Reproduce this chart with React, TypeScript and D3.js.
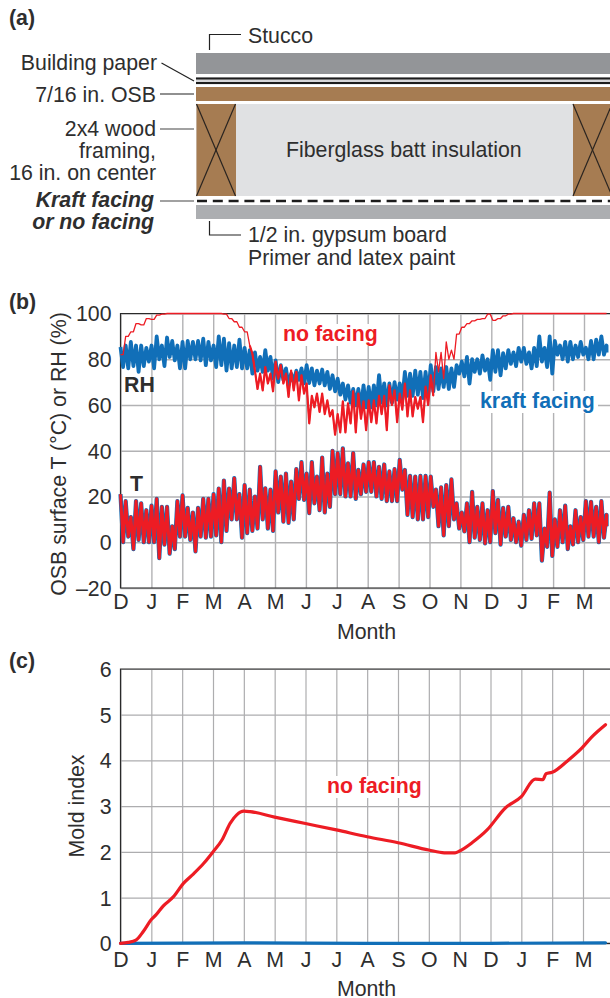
import React from "react";
import * as d3 from "d3";

const monthLabels = ["D", "J", "F", "M", "A", "M", "J", "J", "A", "S", "O", "N", "D", "J", "F", "M"];
const rhTempTicks = [-20, 0, 20, 40, 60, 80, 100];
const moldTicks = [0, 1, 2, 3, 4, 5, 6];
const lastMonth = 15.73;

// hourly traces: highs and lows of each swing, read about every 5 days
const tempHigh = [
  21, 18, 11, 18, 17, 14, 16, 19, 15.5, 15.5, 7, 18, 20.5, 15, 13, 15, 19, 19, 21, 23.5,
  27, 23.5, 28, 21, 25, 23, 20, 33, 23.6, 23, 31, 28.7, 30, 26.5, 32, 35,
  30, 35, 28.7, 37, 30, 40, 39, 41, 34.5, 39, 31.6, 34, 35, 35, 33, 34, 31, 32, 36, 31.6,
  29, 28.7, 29, 29, 28.7, 23, 24, 25, 27.5, 17, 13, 17, 22, 15.5, 17, 14, 22.4, 18.5, 15, 15.5,
  10.5, 9, 12, 14, 17, 17, 6, 21.7, 10, 14, 16, 7, 14, 11, 18, 17.7, 15.5, 18, 12,
];
const tempLow = [
  0, 2.5, -3, 1, 0, 0, 0, -7, -1, -5, -3, 2.5, 2.5, 1, -4, 2.5, 2, 2.5, 3, 0,
  5, 10, 10, 2, 4, 5, 6, 10, 6, 5, 13, 9, 8.5, 10, 19, 18.5,
  12.7, 17, 14, 13, 15.5, 21, 21, 20, 20, 19, 21, 22, 22, 20, 19, 18, 18, 18, 23, 12,
  11, 10, 10, 11, 15.5, 7, 3, 7, 10, 6, 4.7, 0, 2, 1, -0.5, 0, 4, -1, 2.5, 1,
  0, -1.5, 1, 1.5, 3, -8, -2, -6, -2, 0, -3, -1, 0, 1, 2.5, 2.5, 0, 2, 7,
];
const kraftRhHigh = [
  85.4, 86, 87.6, 86, 86, 85, 86, 90, 86, 89.5, 88, 86, 87.6, 88, 87.6, 88, 89, 87.6, 86, 90,
  89, 87, 86, 88.6, 85, 84, 83, 81, 84, 81, 79.5, 77.4, 76, 73.7, 75, 76,
  77.4, 76, 75, 75.5, 74.5, 73, 71.5, 69.4, 68.6, 67, 67, 68.6, 67.9, 68.6, 73, 69.4, 69.4, 70, 69.4, 74.5,
  73.7, 75, 74.5, 74.5, 77.4, 76.6, 76, 76.6, 76, 77.4, 79, 81, 80, 80, 81.7, 80, 84, 84, 82.7, 84,
  83, 85, 85, 83, 85, 90, 85, 90, 88, 86, 87.6, 87.6, 86, 87.6, 85, 88, 88.6, 90, 86,
];
const kraftRhLow = [
  76.6, 76, 77, 74.5, 77, 79, 76, 80, 77, 81, 79.5, 76, 76, 80, 80, 79.5, 77.4, 79.5, 76.6, 77.4,
  75, 76, 76.6, 76, 76, 73.7, 75, 74.5, 75, 71.5, 70, 71, 68.6, 70, 71, 69.4,
  69.6, 68.6, 69.4, 68.6, 67, 66, 64.5, 62.4, 61, 59.8, 58.5, 59, 59, 59.8, 61, 59.8, 61, 62.4, 62.4, 64,
  64, 64.5, 63, 64, 66, 67, 67.9, 67, 67.9, 73.7, 72.5, 69.4, 74.5, 73.7, 75, 71, 74.5, 73, 76, 78,
  77, 79, 78, 76, 77, 79, 76.6, 73.7, 82, 80, 79, 80, 81, 82, 80, 80, 82, 82, 83,
];
const noFacingRhHigh = [
  82, 90, 92, 95.6, 95, 97.8, 97.4, 99.3, 99.7, 100, 100, 100, 100, 100, 100, 100, 100, 100, 100, 100,
  99.7, 97.8, 96.4, 94, 92, 86, 75, 73.7, 76.6, 73.7, 79, 77.4, 73.7, 75, 74.5, 73,
  69.4, 64, 65, 65, 62, 57.7, 56, 61.6, 60.7, 66, 65, 61.6, 62, 62, 64, 64, 68.6, 66.4, 65, 69.4,
  66.4, 63.5, 63.5, 68, 73, 83, 83, 87.6, 84, 91, 94, 95.6, 96.8, 97.4, 97.8, 99.7, 97, 97.8, 99, 99.7,
  100, 100, 100, 100, 100, 100, 100, 100, 100, 100, 100, 100, 100, 100, 100, 100, 100, 100, 100,
];
const noFacingRhLow = [
  82, 90, 92, 95.6, 95, 97.8, 97.4, 99.3, 99.7, 100, 100, 100, 100, 100, 100, 100, 100, 100, 100, 100,
  99.7, 97.8, 96.4, 94, 92, 82.5, 67, 66.4, 69.4, 66, 71.5, 69.4, 63.5, 66.4, 62, 65,
  52, 59, 57, 56, 55, 47, 48, 48, 52, 48, 54, 49, 52.5, 52, 56, 49, 60, 52.5, 58, 55,
  55, 58.4, 52.5, 60, 64, 74.5, 71.5, 80, 80, 91, 94, 95.6, 96.8, 97.4, 97.8, 99.7, 97, 97.8, 99, 99.7,
  100, 100, 100, 100, 100, 100, 100, 100, 100, 100, 100, 100, 100, 100, 100, 100, 100, 100, 100,
];

const moldMonths = [0, 0.25, 0.5, 0.75, 1, 1.15, 1.39, 1.72, 2.04, 2.37, 2.7, 3, 3.29, 3.56, 3.77, 4, 4.2, 5, 6, 7, 8, 9, 10, 10.5, 10.85, 11, 11.4, 11.89, 12.48, 13, 13.45, 13.7, 13.8, 14, 14.53, 14.96, 15.28, 15.73];
const moldNoFacing = [0, 0.02, 0.07, 0.27, 0.52, 0.62, 0.82, 1.02, 1.31, 1.52, 1.75, 2, 2.26, 2.63, 2.81, 2.89, 2.88, 2.76, 2.62, 2.48, 2.33, 2.2, 2.04, 1.98, 1.98, 2.02, 2.2, 2.48, 2.96, 3.21, 3.59, 3.58, 3.71, 3.74, 4.01, 4.27, 4.51, 4.78];
const moldKraftMonths = [0, 4, 8, 12, 15.73];
const moldKraft = [0, 0.01, 0, 0, 0.01];

const BLUE = "#116fb8";
const RED = "#ed1c24";
const INK = "#2e2e2e";
const FONT = '"Liberation Sans", Arial, sans-serif';
const TEXT_SIZE = 21.3;

type Sel = d3.Selection<SVGSVGElement, unknown, null, undefined>;

const label = (svg: Sel, x: number, y: number, s: string, o: any = {}) => {
  const t = svg.append("text")
    .attr("x", x).attr("y", y)
    .attr("font-family", FONT)
    .attr("font-size", TEXT_SIZE)
    .attr("font-weight", o.bold ? "bold" : "normal")
    .attr("font-style", o.italic ? "italic" : "normal")
    .attr("fill", o.fill || INK)
    .attr("text-anchor", o.anchor || "start")
    .text(s);
  if (o.rotate) t.attr("transform", `rotate(-90 ${x} ${y})`);
  return t;
};

const leader = (svg: Sel, pts: [number, number][], color = "#222") => {
  svg.append("path")
    .attr("d", d3.line()(pts))
    .attr("fill", "none")
    .attr("stroke", color)
    .attr("stroke-width", 1.2);
};

// drawing of the wall assembly, panel (a)
const drawWall = (svg: Sel) => {
  const block = (x: number, y: number, w: number, h: number, fill: string) =>
    svg.append("rect").attr("x", x).attr("y", y).attr("width", w).attr("height", h).attr("fill", fill);
  block(196, 53, 414, 21, "#939598");
  block(196, 77, 414, 7.5, "#d6d6d8");
  block(196, 77.5, 414, 2, "#1c1c1c");
  block(196, 82, 414, 2, "#1c1c1c");
  block(196, 87, 414, 14, "#a67c52");
  block(196, 104, 414, 92, "#e0e1e3");
  [196.5, 573].forEach((x) => {
    block(x, 104, 39.5, 92, "#a67c52");
    leader(svg, [[x, 104], [x + 39, 196]], "#2a2420");
    leader(svg, [[x + 39, 104], [x, 196]], "#2a2420");
  });
  svg.append("line")
    .attr("x1", 197).attr("x2", 610).attr("y1", 201).attr("y2", 201)
    .attr("stroke", "#1c1c1c").attr("stroke-width", 2.4).attr("stroke-dasharray", "10 5.8");
  block(196, 205, 414, 14, "#acaeb1");

  leader(svg, [[209.5, 50], [209.5, 34.5], [241, 34.5]]);
  leader(svg, [[161.5, 63], [194, 81]]);
  leader(svg, [[160, 94], [194, 94]]);
  leader(svg, [[160, 129], [194, 129]], "#444");
  leader(svg, [[160, 201], [194, 201]], "#444");
  leader(svg, [[209.5, 221], [209.5, 235], [241, 235]]);

  label(svg, 9, 25, "(a)", { bold: true });
  label(svg, 248, 43, "Stucco");
  label(svg, 157, 70, "Building paper", { anchor: "end" });
  label(svg, 156, 102, "7/16 in. OSB", { anchor: "end" });
  label(svg, 156, 136, "2x4 wood", { anchor: "end" });
  label(svg, 156, 158, "framing,", { anchor: "end" });
  label(svg, 156, 180, "16 in. on center", { anchor: "end" });
  label(svg, 154, 207, "Kraft facing", { anchor: "end", bold: true, italic: true });
  label(svg, 154, 229, "or no facing", { anchor: "end", bold: true, italic: true });
  label(svg, 286, 157, "Fiberglass batt insulation");
  label(svg, 248, 242, "1/2 in. gypsum board");
  label(svg, 248, 265, "Primer and latex paint");
};

// grid, frame and tick labels shared by panels (b) and (c)
const drawFrame = (
  svg: Sel,
  x: d3.ScaleLinear<number, number>,
  y: d3.ScaleLinear<number, number>,
  yTicks: number[],
  yFormat: (v: number) => string,
  gridColor: string,
  gridWidth: number,
  labelBaseline: number
) => {
  const [bottom, top] = y.range();
  const left = x.range()[0];
  const monthIdx = monthLabels.map((_, i) => i);

  const gx = svg.append("g").attr("transform", `translate(0,${bottom})`).call(
    d3.axisBottom(x).tickValues(monthIdx).tickSize(-(bottom - top)).tickPadding(0)
      .tickFormat((d) => monthLabels[+d])
  );
  const gy = svg.append("g").attr("transform", `translate(${left},0)`).call(
    d3.axisLeft(y).tickValues(yTicks).tickSize(-(610 - left)).tickPadding(9)
      .tickFormat((d) => yFormat(+d))
  );
  [gx, gy].forEach((g) => {
    g.select(".domain").remove();
    g.selectAll("line").attr("stroke", gridColor).attr("stroke-width", gridWidth);
    g.selectAll("text").attr("font-family", FONT).attr("font-size", TEXT_SIZE).attr("fill", INK);
  });
  gx.selectAll("text").attr("dy", 0).attr("y", labelBaseline - bottom);
  gy.selectAll("text").attr("dy", "0.35em");

  const frame: [number, number][] = [[610, top], [left, top], [left, bottom], [610, bottom]];
  svg.append("path")
    .attr("d", d3.line()(frame))
    .attr("fill", "none")
    .attr("stroke", "#2a2a2a")
    .attr("stroke-width", 1.2);
};

const haloLabel = (svg: Sel, x0: number, x1: number, baseline: number, s: string, fill: string, textX: number) => {
  svg.append("rect").attr("x", x0).attr("y", baseline - 17).attr("width", x1 - x0).attr("height", 22).attr("fill", "white");
  label(svg, textX, baseline, s, { bold: true, fill });
};

const App = () => {
  const ref = React.useRef<SVGSVGElement>(null);

  React.useEffect(() => {
    if (!ref.current) return;
    const svg: Sel = d3.select(ref.current);
    svg.selectAll("*").remove();

    drawWall(svg);

    // panel (b)
    label(svg, 9, 309, "(b)", { bold: true });
    const xB = d3.scaleLinear().domain([0, 15]).range([120.5, 584]);
    const yB = d3.scaleLinear().domain([-20, 100]).range([588, 313.5]);
    drawFrame(svg, xB, yB, rhTempTicks, (v) => (v < 0 ? "–" + Math.abs(v) : String(v)), "#b2b2b4", 1.4, 609);

    // trace goes high, low, high, low so the band keeps its spikes
    const drawTrace = (high: number[], low: number[], color: string, width: number, from = 0, to = high.length) => {
      const step = lastMonth / (high.length - 1);
      const pts: [number, number][] = [];
      for (let i = from; i < to; i++) {
        pts.push([xB(i * step), yB(high[i])]);
        pts.push([xB(Math.min(i + 0.5, high.length - 1) * step), yB(low[i])]);
      }
      svg.append("path")
        .attr("d", d3.line()(pts))
        .attr("fill", "none")
        .attr("stroke", color)
        .attr("stroke-width", width)
        .attr("stroke-linejoin", "round");
    };

    drawTrace(kraftRhHigh, kraftRhLow, BLUE, 3.8);
    drawTrace(noFacingRhHigh, noFacingRhLow, RED, 1.3);
    drawTrace(noFacingRhHigh, noFacingRhLow, RED, 2.2, 25, 61); // the swinging part, Apr to Oct
    drawTrace(tempHigh, tempLow, BLUE, 4.2);
    drawTrace(tempHigh, tempLow, RED, 3);

    label(svg, 124, 392, "RH", { bold: true });
    label(svg, 130, 491, "T", { bold: true });
    haloLabel(svg, 280, 381, 341, "no facing", RED, 283);
    haloLabel(svg, 470, 598, 408, "kraft facing", BLUE, 480);
    label(svg, 66, 454, "OSB surface T (°C) or RH (%)", { anchor: "middle", rotate: true });
    label(svg, 366.5, 639, "Month", { anchor: "middle" });

    // panel (c)
    label(svg, 9, 668, "(c)", { bold: true });
    const xC = d3.scaleLinear().domain([0, 15]).range([120.5, 583]);
    const yC = d3.scaleLinear().domain([0, 6]).range([943.3, 669]);
    drawFrame(svg, xC, yC, moldTicks, (v) => String(v), "#adadaf", 1.2, 967);

    const moldLine = d3.line<number>().curve(d3.curveMonotoneX);
    const drawMold = (months: number[], vals: number[], color: string) =>
      svg.append("path")
        .attr("d", moldLine.x((_, i) => xC(months[i])).y((d) => yC(d))(vals))
        .attr("fill", "none")
        .attr("stroke", color)
        .attr("stroke-width", 3.2)
        .attr("stroke-linecap", "round");

    drawMold(moldKraftMonths, moldKraft, BLUE);
    drawMold(moldMonths, moldNoFacing, RED);

    haloLabel(svg, 325, 423, 793, "no facing", RED, 327);
    label(svg, 84, 806, "Mold index", { anchor: "middle", rotate: true });
    label(svg, 366.5, 996, "Month", { anchor: "middle" });
  }, []);

  return (
    <svg
      ref={ref}
      width={610}
      height={998}
      style={{ position: "absolute", left: 0, top: 0, display: "block", background: "white" }}
    />
  );
};

export default App;
